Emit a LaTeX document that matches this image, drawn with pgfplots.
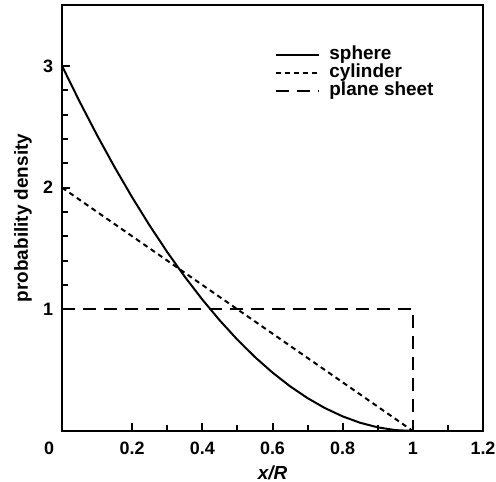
\documentclass[border=0pt]{standalone}
\usepackage{fontspec}
\setmainfont{Liberation Sans}
\usepackage{pgfplots}
\pgfplotsset{compat=1.18}
\begin{document}
\begin{tikzpicture}
% frame of the whole picture (axis box sits at the origin)
\useasboundingbox (-31bp,-25.5bp) rectangle (217bp,215.5bp);
\begin{axis}[
    scale only axis,
    width=210.5bp,
    height=213bp,
    xmin=0, xmax=1.2,
    ymin=0, ymax=3.5,
    xtick={0.2,0.4,0.6,0.8,1,1.2},
    ytick={1,2,3},
    minor x tick num=1,
    minor y tick num=4,
    tick pos=left,
    tick align=inside,
    major tick length=4bp,
    minor tick length=3bp,
    axis line style={line width=1.3bp},
    every tick/.style={line width=1bp, black},
    /pgf/number format/assume math mode=true,
    ticklabel style={font=\bfseries\fontsize{9}{10}\selectfont},
    xticklabel style={anchor=center, yshift=-8.5bp},
    yticklabel style={anchor=center, xshift=-7bp},
    xlabel={\bfseries\itshape x/R},
    ylabel={\bfseries probability density},
    xlabel style={font=\fontsize{9.5}{10}\selectfont,
        at={([yshift=-21bp]rel axis cs:0.5,0)}, anchor=center},
    ylabel style={font=\fontsize{9.5}{10}\selectfont,
        at={([xshift=-19.5bp]rel axis cs:0,0.5)}, anchor=center},
    legend style={draw=none, fill=none, at={(0.506,0.905)}, anchor=north west,
        font=\bfseries\fontsize{9.5}{8}\selectfont, row sep=0pt,
        inner sep=0pt, column sep=4.5bp,
        nodes={inner sep=0pt, text height=7bp, text depth=2bp}},
    legend cell align=left,
    legend image code/.code={\draw[#1] (0bp,0bp) -- (21.5bp,0bp);},
    clip=false,
]
% sphere: 3(1-x)^2
\addplot[black, line width=1bp] coordinates {
    (0,3) (0.05,2.7075) (0.1,2.43) (0.15,2.1675) (0.2,1.92) (0.25,1.6875)
    (0.3,1.47) (0.35,1.2675) (0.4,1.08) (0.45,0.9075) (0.5,0.75)
    (0.55,0.6075) (0.6,0.48) (0.65,0.3675) (0.7,0.27) (0.75,0.1875)
    (0.8,0.12) (0.85,0.0675) (0.9,0.03) (0.95,0.0075) (1,0)
};
\addlegendentry{sphere}
% cylinder
\addplot[black, line width=1bp, dash pattern=on 2.5bp off 2bp] coordinates {
    (0,2) (1,0)
};
\addlegendentry{cylinder}
% plane sheet
\addplot[black, line width=1bp, dash pattern=on 6.5bp off 4bp] coordinates {
    (0,1) (1,1) (1,0)
};
\addlegendentry{plane sheet}
\node[anchor=center, font=\bfseries\fontsize{9}{10}\selectfont] at ([xshift=-6.5bp,yshift=-8.5bp]rel axis cs:0,0) {0};
\end{axis}
\end{tikzpicture}
\end{document}
